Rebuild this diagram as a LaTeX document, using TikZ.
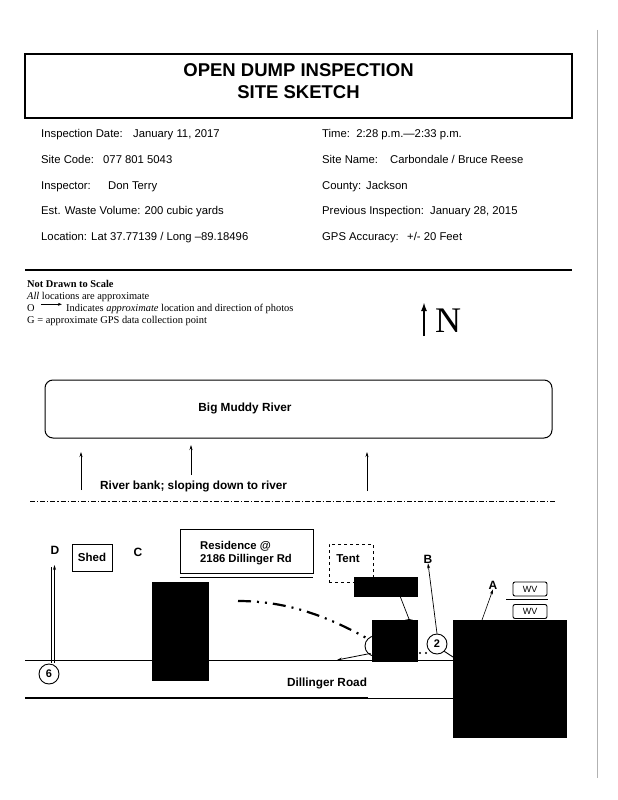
\documentclass[tikz,border=0pt]{standalone}
\usepackage{fontspec}
\setmainfont{Liberation Sans}
\newfontfamily\timesf{Liberation Serif}
\usetikzlibrary{arrows.meta}
\tikzset{
  info/.style={anchor=base west, inner sep=0pt, font=\fontsize{11.3}{13}\selectfont},
  legend/.style={anchor=base west, inner sep=0pt, font=\timesf\fontsize{10.4}{11}\selectfont},
  lbl/.style={inner sep=0pt, font=\bfseries\fontsize{12}{14}\selectfont},
  plainbox/.style={draw, line width=1pt, inner sep=0pt},
  redact/.style={fill=black, draw=none},
  upar/.style={-{Stealth[length=5pt,width=3pt]}, line width=0.6pt},
  photo/.style={draw, circle, line width=0.9pt, minimum size=20pt, inner sep=0pt, font=\bfseries\fontsize{11}{12}\selectfont},
  wv/.style={draw, rounded corners=2pt, line width=0.9pt, minimum width=34pt, minimum height=14pt, inner sep=0pt, font=\fontsize{9}{10}\selectfont}
}
\begin{document}
\begin{tikzpicture}[x=1pt,y=-1pt]
\useasboundingbox (0,0) rectangle (618,800);
\fill[white] (0,0) rectangle (618,800);
% scan edge
\draw[gray!60, line width=0.8pt] (597,30) -- (597,778);
% title box
\node[draw, line width=2.6pt, minimum width=547pt, minimum height=64pt] (title) at (298.5,86) {};
\node[align=center, inner sep=0pt, font=\bfseries\fontsize{18.5}{21.5}\selectfont] (titletxt) at (298.5,81) {OPEN DUMP INSPECTION\\SITE SKETCH};
% info
\node[info] (i1) at (41,137.5) {Inspection Date:};
\node[info] (v1) at (133,137.5) {January 11, 2017};
\node[info] (i2) at (41,163.5) {Site Code:};
\node[info] (v2) at (103,163.5) {077 801 5043};
\node[info] (i3) at (41,189) {Inspector:};
\node[info] (v3) at (108,189) {Don Terry};
\node[info] (i4) at (41,214.5) {Est. Waste Volume: 200 cubic yards};
\node[info] (i5) at (41,240) {Location: Lat 37.77139 / Long --89.18496};
\node[info] (r1) at (322,137.5) {Time:\ \ 2:28 p.m.---2:33 p.m.};
\node[info] (r2) at (322,163.5) {Site Name:};
\node[info] (rv2) at (390,163.5) {Carbondale / Bruce Reese};
\node[info] (r3) at (322,189) {County:};
\node[info] (rv3) at (366,189) {Jackson};
\node[info] (r4) at (322,214.5) {Previous Inspection:\ \ January 28, 2015};
\node[info] (r5) at (322,240) {GPS Accuracy:};
\node[info] (rv5) at (407,240) {+/- 20 Feet};
% separator
\coordinate (sepL) at (25,270);
\coordinate (sepR) at (572,270);
\draw[line width=1.8pt] (sepL) -- (sepR);
% legend
\node[legend, font=\timesf\bfseries\fontsize{10.4}{11}\selectfont] (lg1) at (27,287) {Not Drawn to Scale};
\node[legend] (lg2) at (27,299) {\textit{All} locations are approximate};
\node[legend] (lg3o) at (27,311) {O};
\node[legend] (lg3) at (66,311) {Indicates \textit{approximate} location and direction of photos};
\draw[-{Stealth[length=4pt,width=3pt]}, line width=0.9pt] (lg3o.east) ++(6,-3.3) -- ++(21,0);
\node[legend] (lg4) at (27,323) {G = approximate GPS data collection point};
% north
\node[inner sep=0pt, font=\timesf\fontsize{36}{36}\selectfont] (north) at (448,321) {N};
\coordinate (nb) at (424,336);
\coordinate (nt) at (424,302);
\draw[-{Latex[length=9pt,width=6pt]}, line width=2.4pt] (nb) -- (nt);
% river
\node[draw, rounded corners=8pt, line width=1pt, minimum width=507pt, minimum height=58pt] (river) at (298.5,409) {};
\node[inner sep=0pt, font=\bfseries\fontsize{11.8}{13}\selectfont] (rivtxt) at (245,408) {Big Muddy River};
\node[anchor=west, inner sep=0pt, font=\bfseries\fontsize{11.8}{13}\selectfont] (bank) at (100,486) {River bank; sloping down to river};
\coordinate (a1b) at (81,490); \coordinate (a1t) at (81,452);
\coordinate (a2b) at (191,475); \coordinate (a2t) at (191,445);
\coordinate (a3b) at (367,491); \coordinate (a3t) at (367,452);
\draw[upar] (a1b) -- (a1t);
\draw[upar] (a2b) -- (a2t);
\draw[upar] (a3b) -- (a3t);
\coordinate (bankL) at (30,501);
\coordinate (bankR) at (556,501);
\draw[line width=0.7pt, dash pattern=on 5pt off 2pt on 1.2pt off 2pt] (bankL) -- (bankR);
% site features
\node[lbl] (D) at (55,550) {D};
\node[plainbox, minimum width=40pt, minimum height=27pt, font=\bfseries\fontsize{11.5}{13}\selectfont] (shed) at (92,557.5) {Shed};
\node[lbl] (C) at (138,552) {C};
\node[plainbox, minimum width=133pt, minimum height=44pt] (res) at (246.5,551) {};
\node[anchor=west, inner sep=0pt, align=left, font=\bfseries\fontsize{11.3}{12.5}\selectfont] (restxt) at (200,553) {Residence @\\2186 Dillinger Rd};
\draw[line width=0.9pt] (res.south west) ++(0,4) -- ++(133,0);
\node[draw, dashed, line width=0.9pt, minimum width=44pt, minimum height=38pt, inner sep=0pt] (tent) at (351,563) {};
\node[inner sep=0pt, font=\bfseries\fontsize{11.5}{13}\selectfont] (tenttxt) at (348,559) {Tent};
\node[lbl] (B) at (428,559) {B};
\node[lbl] (A) at (493,585) {A};
\node[wv] (wv1) at (530,589) {WV};
\draw[line width=0.9pt] (506,599) -- (548,599);
\node[wv] (wv2) at (530,611.5) {WV};
% road
\coordinate (roadL) at (25,660);
\coordinate (roadR) at (453,660);
\draw[line width=1pt] (roadL) -- (roadR);
\coordinate (road2L) at (25,698);
\coordinate (road2M) at (368,698);
\coordinate (road2R) at (453,698);
\draw[line width=1.8pt] (road2L) -- (road2M);
\draw[line width=0.9pt] (road2M) -- (road2R);
\node[inner sep=0pt, font=\bfseries\fontsize{11.8}{13}\selectfont] (dill) at (327,683) {Dillinger Road};
% photo 6
\node[photo] (p6) at (49,674) {6};
\coordinate (d1b) at (51,663); \coordinate (d1t) at (51,567);
\coordinate (d2b) at (54.5,663); \coordinate (d2t) at (54.5,565);
\draw[line width=0.7pt] (d1b) -- (d1t);
\draw[upar] (d2b) -- (d2t);
% hidden photo circles
\node[photo] (p5) at (375,646) {};
\node[photo, minimum size=17pt] (p4) at (409,628) {};
\coordinate (roadArr) at (337,660);
\draw[-{Stealth[length=5pt,width=3pt]}, line width=0.8pt] (p5.south west) ++(3,0) -- (roadArr);
% dash-dot path
\coordinate (pathS) at (238,601);
\draw[line width=2.2pt, dash pattern=on 13pt off 6pt on 2pt off 6pt on 2pt off 6pt]
  (pathS) .. controls (290,601) and (330,618) .. (p5.north west);
% photo 2
\node[photo] (p2) at (437,644) {2};
\draw[upar, line width=0.7pt] (p2.north) -- (B.south);
\draw[line width=0.9pt] (p2.south east) -- (453,657);
\fill (420,653) circle (1.1pt);
\fill (426,653) circle (1.1pt);
\coordinate (aBase) at (482,620);
\draw[upar] (aBase) -- (A.south);
% redactions
\node[redact, minimum width=64pt, minimum height=20pt, inner sep=0pt] (k1) at (386,587) {};
\draw[line width=0.7pt] (400,596) -- (p4.north);
\node[redact, minimum width=57pt, minimum height=99pt, inner sep=0pt] (k4) at (180.5,631.5) {};
\node[redact, minimum width=46pt, minimum height=42pt, inner sep=0pt] (k3) at (395,641) {};
\node[redact, minimum width=114pt, minimum height=118pt, inner sep=0pt] (k2) at (510,679) {};
\end{tikzpicture}
\end{document}
